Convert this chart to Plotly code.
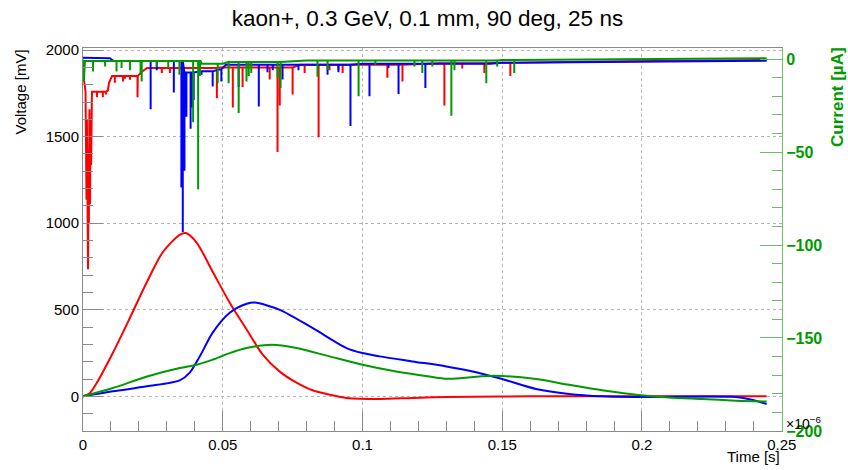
import plotly.graph_objects as go

# ---------------- data ----------------
# Voltage pulses (left axis, mV) vs time (s)
red_v_t = [0, 0.0025, 0.0049, 0.0107, 0.0168, 0.0229, 0.0286, 0.0346, 0.0368, 0.0407, 0.0464,
           0.0525, 0.0586, 0.0643, 0.0704, 0.0764, 0.0821, 0.0882, 0.0943, 0.1061, 0.1179,
           0.13, 0.1596, 0.2446]
red_v = [0, 20, 77, 252, 454, 662, 834, 933, 943, 887, 720,
         541, 385, 241, 143, 79, 35, 10, -9, -15, -9,
         -4, 0, 0]

blue_v_t = [0, 0.0107, 0.0229, 0.0346, 0.0382, 0.0418, 0.0464, 0.0525, 0.0586, 0.0614, 0.0704,
            0.0821, 0.0943, 0.1, 0.1061, 0.1179, 0.13, 0.1382, 0.15, 0.1621, 0.1739,
            0.1857, 0.1979, 0.2336, 0.2393, 0.2446]
blue_v = [0, 29, 58, 92, 137, 231, 368, 483, 535, 542, 500,
          395, 279, 250, 231, 202, 173, 148, 100, 43, 14,
          0, -4, -4, -19, -44]

green_v_t = [0, 0.0107, 0.0229, 0.0346, 0.0407, 0.0464, 0.0525, 0.0586, 0.0675, 0.0764, 0.0882,
             0.1, 0.1121, 0.1239, 0.13, 0.1357, 0.1418, 0.1471, 0.1621, 0.1739, 0.1857,
             0.1979, 0.2096, 0.2214, 0.2336, 0.2446]
green_v = [0, 48, 115, 164, 183, 212, 250, 279, 298, 279, 231,
           183, 144, 115, 102, 106, 115, 119, 100, 67, 35,
           10, -6, -15, -25, -30]

# Current traces (right axis, uA): baseline points + spikes
red_base_t = [0, 0.00036, 0.0009, 0.00125, 0.0014, 0.0018, 0.0020, 0.0021, 0.0023, 0.0025,
              0.0027, 0.0029, 0.0032, 0.0089, 0.0093, 0.0104, 0.0196, 0.0211, 0.0229, 0.049,
              0.0775, 0.1275, 0.15, 0.185, 0.2446]
red_base_i = [-0.4, -11, -17.6, -75.6, -32.6, -113, -48.8, -88, -27, -78,
              -32.6, -57, -17.6, -16.9, -12.7, -9, -9, -6.8, -4.7, -4.5,
              -3, -2.2, -2, -1.3, -0.4]
red_spike_t = [0.005, 0.0071, 0.0082, 0.0114, 0.0143, 0.015, 0.0168, 0.0195, 0.0282, 0.0311,
               0.0479, 0.0536, 0.0571, 0.0668, 0.0696, 0.0704, 0.075, 0.0793, 0.0843, 0.0882,
               0.0914, 0.0929, 0.1089, 0.1143, 0.1293, 0.1357, 0.1436, 0.1529]
red_spike_i = [-20.5, -20.5, -19, -12.7, -12, -10.6, -11.1, -20.5, -7.5, -7.5,
               -21, -26, -15, -11, -50, -25, -19, -7.5, -42, -6,
               -6, -7.5, -10, -12, -25, -5, -7.5, -9]

blue_base_t = [0, 0.0096, 0.011, 0.0352, 0.0363, 0.0418, 0.0489, 0.0511, 0.1, 0.15, 0.2446]
blue_base_i = [0.7, 0.5, -1, -1, -7.2, -6.5, -5.5, -3, -2.5, -2, -0.8]
blue_spike_t = [0.0242, 0.0264, 0.0325, 0.0352, 0.0357, 0.0363, 0.037, 0.0385, 0.0392, 0.0396,
                0.0424, 0.0464, 0.0495, 0.0557, 0.0629, 0.066, 0.0679, 0.0714, 0.0771, 0.0875,
                0.0914, 0.0957, 0.1025, 0.1093, 0.1129, 0.1225, 0.1457]
blue_spike_i = [-27, -6, -18, -69, -93, -60, -31, -37.5, -26, -22,
                -8.4, -14.7, -12, -15, -25.5, -7, -6, -11, -6, -8.4,
                -7, -36, -20, -4.7, -18.7, -15.5, -3]

green_base_t = [0, 0.0003, 0.0007, 0.042, 0.0425, 0.05, 0.052, 0.08, 0.15, 0.2446]
green_base_i = [-0.3, -12, -1.0, -0.8, -2.5, -2.5, -1.5, -0.7, -0.4, 0.5]
green_spike_t = [0.0036, 0.0079, 0.012, 0.0138, 0.0168, 0.0206, 0.021, 0.0264, 0.0305, 0.0345,
                 0.0394, 0.0412, 0.0418, 0.0482, 0.0521, 0.0557, 0.0585, 0.0593, 0.0602, 0.0696,
                 0.0707, 0.0839, 0.0875, 0.0986, 0.1046, 0.1186, 0.1214, 0.125, 0.1318, 0.1329,
                 0.1443, 0.1482, 0.1543]
green_spike_i = [-6.7, -4, -6.7, -4.7, -6, -8.4, -12, -4, -4.7, -8.4,
                 -34, -70, -9, -13, -13, -29, -12, -9, -7.5, -10,
                 -15.5, -9.4, -5.7, -20, -3, -4, -7.5, -4, -30.5, -6,
                 -13, -4, -7.5]

x_tick_vals = [0, 0.05, 0.1, 0.15, 0.2, 0.25]
x_tick_text = ["0", "0.05", "0.1", "0.15", "0.2", "0.25"]

RED = "#ff0000"
BLUE = "#0000ff"
GREEN = "#009a00"
FONT = "Liberation Sans"


def build_spiky(base_t, base_i, spike_t, spike_i):
    events = [(t, 0, v) for t, v in zip(base_t, base_i)] + \
             [(t, 1, v) for t, v in zip(spike_t, spike_i)]
    events.sort(key=lambda e: (e[0], e[1]))
    xs, ys = [], []
    level = base_i[0]
    for t, kind, v in events:
        if kind == 0:
            level = v
            xs.append(t)
            ys.append(v)
        else:
            xs += [t, t, t]
            ys += [level, v, level]
    return xs, ys


fig = go.Figure()

for t, v, c in [(red_v_t, red_v, RED), (blue_v_t, blue_v, BLUE), (green_v_t, green_v, GREEN)]:
    fig.add_trace(go.Scatter(x=t, y=v, mode="lines",
                             line=dict(color=c, width=2, shape="spline", smoothing=0.8),
                             yaxis="y", showlegend=False, hoverinfo="skip"))

for bt, bi, st, si, c in [(red_base_t, red_base_i, red_spike_t, red_spike_i, RED),
                          (blue_base_t, blue_base_i, blue_spike_t, blue_spike_i, BLUE),
                          (green_base_t, green_base_i, green_spike_t, green_spike_i, GREEN)]:
    xs, ys = build_spiky(bt, bi, st, si)
    fig.add_trace(go.Scatter(x=xs, y=ys, mode="lines", line=dict(color=c, width=2),
                             yaxis="y2", showlegend=False, hoverinfo="skip"))

AX = "#8a8a8a"
GRID = "#b4b4b4"
G_AX = "#66c266"

fig.update_layout(
    width=848, height=470,
    margin=dict(l=83, r=66, t=48, b=39, autoexpand=False),
    paper_bgcolor="white", plot_bgcolor="white",
    font=dict(family=FONT, color="black"),
    title=dict(text="kaon+, 0.3 GeV, 0.1 mm, 90 deg, 25 ns", x=(427.5 - 83) / 699,
               xanchor="center", xref="paper", y=1 - 18 / 470, yanchor="middle",
               automargin=False, font=dict(size=22.5, family=FONT, color="black")),
    xaxis=dict(range=[0, 0.2501], tickvals=x_tick_vals, ticktext=x_tick_text,
               ticks="inside", ticklen=20, tickcolor=AX, showline=True, linecolor=AX,
               linewidth=1, mirror=True, showgrid=True, gridcolor=GRID, griddash="dot",
               gridwidth=1, zeroline=False, automargin=False,
               tickfont=dict(size=15, family=FONT, color="black"),
               minor=dict(dtick=0.01, tick0=0, ticks="inside", ticklen=10, tickcolor=AX)),
    yaxis=dict(range=[-200, 2012], dtick=500, tick0=0, ticks="inside", ticklen=20,
               tickcolor=AX, showline=True, linecolor=AX, linewidth=1, mirror=False,
               showgrid=True, gridcolor=GRID, griddash="dot", gridwidth=1, zeroline=False,
               automargin=False, tickfont=dict(size=15, family=FONT, color="black"),
               minor=dict(dtick=100, tick0=0, ticks="inside", ticklen=10, tickcolor=AX)),
    yaxis2=dict(range=[-200.05, 6], overlaying="y", side="right", dtick=50, tick0=0,
                ticks="inside", ticklen=22, tickcolor=G_AX, showline=True,
                linecolor=G_AX, linewidth=1, showgrid=False, zeroline=False,
                automargin=False,
                tickfont=dict(size=16, family=FONT, color=GREEN, weight="bold"),
                minor=dict(dtick=10, tick0=0, ticks="inside", ticklen=10, tickcolor=G_AX)),
    annotations=[
        dict(text="Voltage [mV]", xref="paper", yref="paper", x=(20 - 83) / 699, y=1.0,
             xanchor="center", yanchor="top", textangle=-90, showarrow=False,
             font=dict(size=15, family=FONT, color="black")),
        dict(text="Time [s]", xref="paper", yref="paper", x=1.0, y=(431 - 456) / 383,
             xanchor="right", yanchor="middle", showarrow=False,
             font=dict(size=15, family=FONT, color="black")),
        dict(text="<b>Current [µA]</b>", xref="paper", yref="paper", x=(838 - 83) / 699,
             y=1.008, xanchor="center", yanchor="top", textangle=-90, showarrow=False,
             font=dict(size=17, family=FONT, color=GREEN)),
        dict(text="×10<sup>−6</sup>", xref="paper", yref="paper", x=(784 - 83) / 699,
             y=(431 - 423) / 383, xanchor="left", yanchor="middle", showarrow=False,
             font=dict(size=14, family=FONT, color="black")),
    ],
)

fig.write_html("out.html", config={"displayModeBar": False},
               post_script="document.body.style.margin='0';document.body.style.padding='0';")
